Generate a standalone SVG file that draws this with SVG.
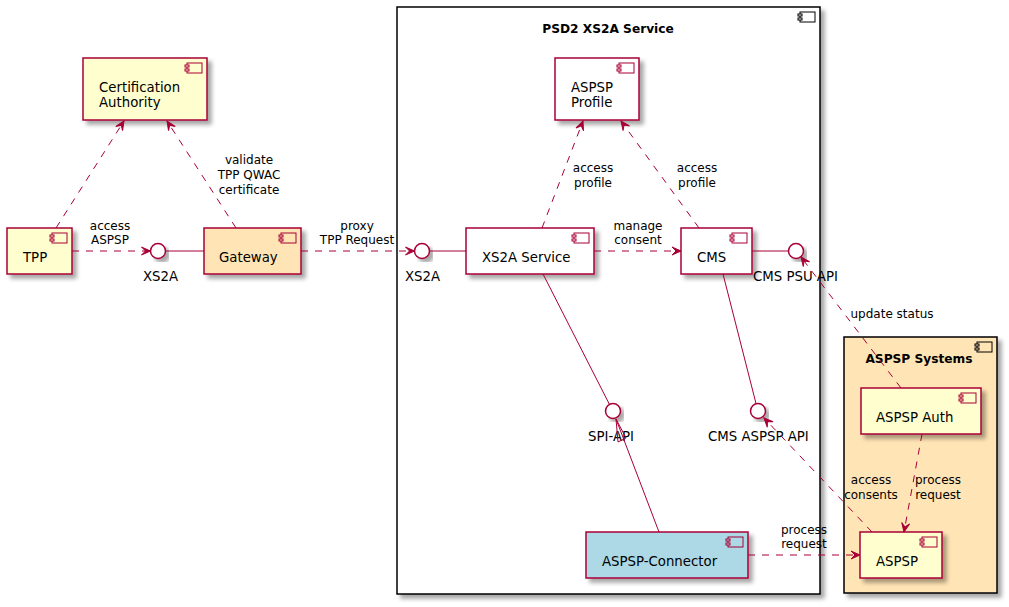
<svg xmlns="http://www.w3.org/2000/svg" width="1009" height="607" viewBox="0 0 1009 607">
<defs>
<filter id="sh" x="-10%" y="-10%" width="130%" height="130%">
<feGaussianBlur in="SourceAlpha" stdDeviation="2" result="b"/>
<feOffset in="b" dx="4" dy="4" result="o"/>
<feComponentTransfer in="o" result="c"><feFuncA type="linear" slope="0.35"/></feComponentTransfer>
<feMerge><feMergeNode in="c"/><feMergeNode in="SourceGraphic"/></feMerge>
</filter>
<marker id="ar" viewBox="-10 -5 11 10" refX="0" refY="0" markerWidth="11" markerHeight="10" markerUnits="userSpaceOnUse" orient="auto">
<path d="M0,0 L-9,-4 L-5,0 L-9,4 Z" fill="#A80036" stroke="#A80036" stroke-width="1"/>
</marker>
<g id="icon">
<rect x="-20" y="5" width="15" height="10" fill="none" stroke="#A80036" stroke-width="1"/>
<rect x="-22" y="7" width="4" height="2" stroke="#A80036" stroke-width="1"/>
<rect x="-22" y="11" width="4" height="2" stroke="#A80036" stroke-width="1"/>
</g>
<g id="iconk">
<rect x="-20" y="5" width="15" height="10" fill="none" stroke="#000" stroke-width="1"/>
<rect x="-22" y="7" width="4" height="2" stroke="#000" stroke-width="1"/>
<rect x="-22" y="11" width="4" height="2" stroke="#000" stroke-width="1"/>
</g>
</defs>
<style>
.comp{stroke:#A80036;stroke-width:1.5;filter:url(#sh)}
.y{fill:#FEFECE}
.w{fill:#FFFFFF}
.o{fill:#FFE4B5}
.b{fill:#ADD8E6}
.frame{stroke:#000;stroke-width:1.5;filter:url(#sh)}
.ifc{fill:#FFFFFF;stroke:#A80036;stroke-width:1.5;filter:url(#sh)}
.name{font-family:"DejaVu Sans","Liberation Sans",sans-serif;font-size:13.3px;fill:#000}
.title{font-family:"DejaVu Sans","Liberation Sans",sans-serif;font-size:12.2px;font-weight:bold;fill:#000}
.lbl{font-family:"DejaVu Sans","Liberation Sans",sans-serif;font-size:12px;fill:#000;text-anchor:middle}
.solid{stroke:#A80036;stroke-width:1;fill:none}
.dash{stroke:#A80036;stroke-width:1;fill:none;stroke-dasharray:7,7;marker-end:url(#ar)}
#icon rect,#iconk rect{fill:inherit}
</style>

<g id="psd2">
<rect class="frame" x="397" y="7" width="423" height="587" fill="#FFFFFF"/>
<use href="#iconk" x="820" y="7" fill="#FFFFFF"/>
<text class="title" x="608" y="33" text-anchor="middle">PSD2 XS2A Service</text>
</g>

<g id="aspspsystems">
<rect class="frame" x="844" y="337" width="153" height="256" fill="#FFE4B5"/>
<use href="#iconk" x="997" y="337" fill="#FFE4B5"/>
<text class="title" x="919" y="363" text-anchor="middle">ASPSP Systems</text>
</g>

<g id="ca">
<rect class="comp y" x="83" y="58" width="124" height="62"/>
<use href="#icon" x="207" y="58" fill="#FEFECE"/>
<text class="name" x="99" y="92">Certification</text>
<text class="name" x="99" y="107">Authority</text>
</g>

<g id="tpp">
<rect class="comp y" x="7" y="228" width="65" height="46"/>
<use href="#icon" x="72" y="228" fill="#FEFECE"/>
<text class="name" x="23" y="262">TPP</text>
</g>

<g id="gateway">
<rect class="comp o" x="204" y="228" width="97" height="46"/>
<use href="#icon" x="301" y="228" fill="#FFE4B5"/>
<text class="name" x="219" y="262">Gateway</text>
</g>

<g id="profile">
<rect class="comp w" x="555" y="58" width="84" height="62"/>
<use href="#icon" x="639" y="58" fill="#FFFFFF"/>
<text class="name" x="571" y="92">ASPSP</text>
<text class="name" x="571" y="107">Profile</text>
</g>

<g id="xs2aservice">
<rect class="comp w" x="466" y="228" width="128" height="46"/>
<use href="#icon" x="594" y="228" fill="#FFFFFF"/>
<text class="name" x="482" y="262">XS2A Service</text>
</g>

<g id="cms">
<rect class="comp w" x="681" y="228" width="71" height="46"/>
<use href="#icon" x="752" y="228" fill="#FFFFFF"/>
<text class="name" x="697" y="262">CMS</text>
</g>

<g id="connector">
<rect class="comp b" x="586" y="532" width="162" height="46"/>
<use href="#icon" x="748" y="532" fill="#ADD8E6"/>
<text class="name" x="602" y="566">ASPSP-Connector</text>
</g>

<g id="aspspauth">
<rect class="comp y" x="861" y="388" width="120" height="46"/>
<use href="#icon" x="981" y="388" fill="#FEFECE"/>
<text class="name" x="876" y="422">ASPSP Auth</text>
</g>

<g id="aspsp">
<rect class="comp y" x="860" y="532" width="82" height="46"/>
<use href="#icon" x="942" y="532" fill="#FEFECE"/>
<text class="name" x="876" y="566">ASPSP</text>
</g>

<g id="if-xs2a-gw">
<circle class="ifc" cx="158" cy="251" r="7.5"/>
<text class="name" x="143" y="281">XS2A</text>
</g>
<g id="if-xs2a">
<circle class="ifc" cx="422" cy="251" r="7.5"/>
<text class="name" x="405" y="281">XS2A</text>
</g>
<g id="if-cmspsu">
<circle class="ifc" cx="796" cy="251" r="7.5"/>
<text class="name" x="753" y="281">CMS PSU API</text>
</g>
<g id="if-spi">
<circle class="ifc" cx="613" cy="411" r="7.5"/>
<text class="name" x="588" y="441">SPI-API</text>
</g>
<g id="if-cmsaspsp">
<circle class="ifc" cx="758" cy="411" r="7.5"/>
<text class="name" x="708" y="441">CMS ASPSP API</text>
</g>

<g id="connectors">
<line class="solid" x1="165.5" y1="251" x2="204" y2="251"/>
<line class="solid" x1="429.5" y1="251" x2="466" y2="251"/>
<line class="solid" x1="752" y1="251" x2="788.5" y2="251"/>
<line class="solid" x1="543" y1="274" x2="609.5" y2="404.5"/>
<line class="solid" x1="723" y1="274" x2="756" y2="403.5"/>
<line class="solid" x1="659" y1="532" x2="616" y2="419"/>
<polygon class="solid" points="616,419 626,438 618,442"/>

<path class="dash" d="M72,251 L150.5,251"/>
<path class="dash" d="M301,251 L414.5,251"/>
<path class="dash" d="M594,251 L681,251"/>
<path class="dash" d="M56,228 L124,121"/>
<path class="dash" d="M236,228 L167,121"/>
<path class="dash" d="M542,228 L583,121"/>
<path class="dash" d="M699,228 L621,121"/>
<path class="dash" d="M901,388 L801,257"/>
<path class="dash" d="M872,532 L764,418"/>
<path class="dash" d="M922,434 L904,532"/>
<path class="dash" d="M748,555 L860,555"/>

<text class="lbl" x="110" y="230">access</text>
<text class="lbl" x="110" y="244">ASPSP</text>
<text class="lbl" x="249" y="164">validate</text>
<text class="lbl" x="249" y="179">TPP QWAC</text>
<text class="lbl" x="249" y="194">certificate</text>
<text class="lbl" x="357" y="230">proxy</text>
<text class="lbl" x="357" y="244">TPP Request</text>
<text class="lbl" x="638" y="230">manage</text>
<text class="lbl" x="638" y="244">consent</text>
<text class="lbl" x="593" y="172">access</text>
<text class="lbl" x="593" y="187">profile</text>
<text class="lbl" x="697" y="172">access</text>
<text class="lbl" x="697" y="187">profile</text>
<text class="lbl" x="892" y="318">update status</text>
<text class="lbl" x="871" y="484">access</text>
<text class="lbl" x="871" y="499">consents</text>
<text class="lbl" x="938" y="484">process</text>
<text class="lbl" x="938" y="499">request</text>
<text class="lbl" x="804" y="534">process</text>
<text class="lbl" x="804" y="548">request</text>
</g>
</svg>
